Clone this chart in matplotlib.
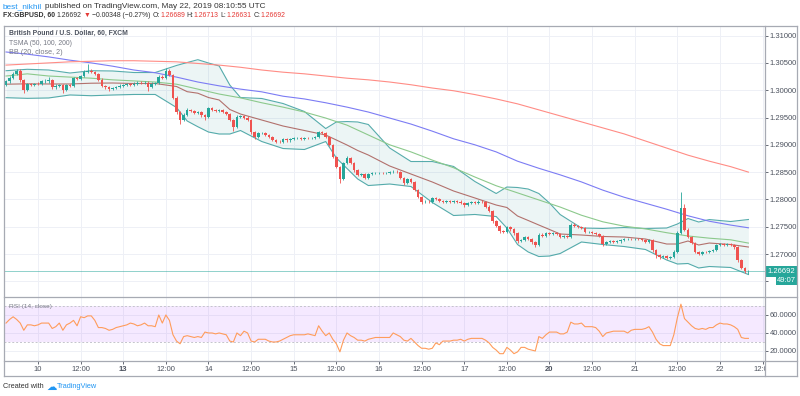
import numpy as np
import matplotlib
matplotlib.use("Agg")
import matplotlib.pyplot as plt
from matplotlib.lines import Line2D
from matplotlib.patches import Rectangle
from matplotlib.transforms import Bbox, TransformedBbox

plt.rcParams['font.family'] = ['Liberation Sans', 'DejaVu Sans']

# ---------------- data ----------------
first_bar = -9            # hourly bars, 0 = May 10 00:00 (weekend hours skipped)
first_open = 1.3010
closes = [
    1.3016, 1.3022, 1.3030, 1.3035, 1.3018, 1.3000, 1.3011, 1.3010, 1.3012, 1.3011,
    1.3016, 1.3016, 1.3018, 1.3005, 1.3008, 1.3009, 1.3000, 1.3009, 1.3008, 1.3022,
    1.3020, 1.3026, 1.3033, 1.3036, 1.3034, 1.3030, 1.3019, 1.3008, 1.3005, 1.3002,
    1.3004, 1.3006, 1.3008, 1.3010, 1.3011, 1.3010, 1.3012, 1.3014, 1.3013, 1.3014,
    1.3006, 1.3012, 1.3013, 1.3024, 1.3022, 1.3035, 1.3028, 1.2986, 1.2960, 1.2945,
    1.2955, 1.2964, 1.2962, 1.2958, 1.2960, 1.2955, 1.2951, 1.2967, 1.2964, 1.2962,
    1.2963, 1.2960, 1.2956, 1.2945, 1.2933, 1.2951, 1.2952, 1.2950, 1.2945, 1.2923,
    1.2914, 1.2921, 1.2922, 1.2918, 1.2914, 1.2909, 1.2906, 1.2905, 1.2910, 1.2908,
    1.2910, 1.2912, 1.2913, 1.2911, 1.2913, 1.2912, 1.2912, 1.2914, 1.2923, 1.2921,
    1.2915, 1.2900, 1.2878, 1.2860, 1.2837, 1.2867, 1.2876, 1.2866, 1.2854, 1.2845,
    1.2846, 1.2839, 1.2847, 1.2848, 1.2848, 1.2849, 1.2848, 1.2849, 1.2850, 1.2851,
    1.2850, 1.2839, 1.2830, 1.2837, 1.2832, 1.2817, 1.2804, 1.2795, 1.2796, 1.2795,
    1.2802, 1.2800, 1.2797, 1.2795, 1.2797, 1.2796, 1.2797, 1.2796, 1.2794, 1.2790,
    1.2793, 1.2795, 1.2794, 1.2796, 1.2795, 1.2787, 1.2779, 1.2760, 1.2752, 1.2742,
    1.2740, 1.2749, 1.2745, 1.2738, 1.2724, 1.2726, 1.2731, 1.2728, 1.2722, 1.2717,
    1.2735, 1.2733, 1.2738, 1.2737, 1.2738, 1.2736, 1.2732, 1.2733, 1.2732, 1.2753,
    1.2752, 1.2749, 1.2747, 1.2740, 1.2741, 1.2738, 1.2737, 1.2733, 1.2718, 1.2722,
    1.2723, 1.2722, 1.2723, 1.2725, 1.2727, 1.2728, 1.2727, 1.2728, 1.2727, 1.2726,
    1.2722, 1.2725, 1.2707, 1.2698, 1.2695, 1.2696, 1.2693, 1.2695, 1.2704, 1.2738,
    1.2784, 1.2744, 1.2731, 1.2720, 1.2704, 1.2700, 1.2704, 1.2703, 1.2706, 1.2707,
    1.2716, 1.2718, 1.2717, 1.2718, 1.2716, 1.2712, 1.2689, 1.2675, 1.26689, 1.26692,
]
upper_wick_pips = [
    3, 4, 3, 4, 3, 2, 3, 2, 2, 3,
    2, 5, 6, 2, 3, 2, 3, 2, 3, 2,
    3, 2, 4, 12, 3, 2, 2, 3, 2, 2,
    2, 2, 3, 2, 2, 2, 3, 2, 2, 2,
    2, 3, 2, 3, 3, 5, 4, 2, 3, 2,
    3, 3, 2, 2, 2, 2, 2, 3, 2, 2,
    2, 2, 2, 2, 2, 3, 2, 2, 2, 3,
    2, 3, 2, 2, 2, 2, 2, 2, 2, 2,
    2, 2, 2, 2, 2, 2, 2, 2, 3, 3,
    2, 2, 2, 2, 2, 2, 3, 2, 2, 2,
    2, 2, 2, 2, 2, 2, 2, 2, 2, 2,
    2, 2, 2, 3, 2, 2, 2, 2, 2, 2,
    3, 2, 2, 2, 2, 2, 2, 2, 2, 2,
    2, 2, 2, 2, 2, 2, 2, 2, 2, 2,
    2, 3, 2, 2, 2, 2, 2, 2, 2, 2,
    3, 3, 2, 2, 2, 2, 2, 2, 2, 3,
    3, 2, 2, 2, 2, 2, 2, 2, 2, 2,
    2, 2, 2, 2, 2, 2, 2, 2, 2, 2,
    2, 2, 2, 3, 2, 2, 2, 2, 4, 4,
    30, 8, 3, 2, 2, 2, 2, 2, 2, 2,
    2, 2, 2, 2, 2, 2, 2, 2, 2, 2.1,
]
lower_wick_pips = [
    3, 2, 2, 2, 3, 5, 2, 2, 2, 2,
    2, 2, 2, 3, 2, 2, 6, 2, 2, 2,
    2, 2, 2, 2, 2, 2, 2, 3, 2, 3,
    2, 2, 2, 2, 2, 2, 2, 2, 2, 2,
    8, 2, 2, 2, 2, 2, 2, 3, 3, 7,
    2, 2, 2, 2, 2, 4, 6, 2, 2, 2,
    2, 2, 2, 2, 8, 2, 2, 2, 2, 3,
    4, 2, 2, 2, 2, 2, 2, 2, 2, 2,
    2, 2, 2, 2, 2, 2, 2, 2, 2, 2,
    2, 2, 2, 3, 7, 2, 2, 2, 3, 2,
    3, 2, 2, 2, 2, 2, 2, 2, 2, 2,
    2, 2, 3, 2, 2, 2, 2, 4, 2, 2,
    2, 2, 2, 2, 2, 2, 2, 2, 2, 3,
    2, 2, 2, 2, 2, 3, 2, 3, 2, 3,
    2, 2, 2, 3, 4, 2, 2, 2, 3, 4,
    2, 2, 2, 2, 2, 2, 2, 2, 2, 2,
    2, 2, 2, 2, 2, 2, 2, 2, 4, 2,
    2, 2, 2, 2, 2, 2, 2, 2, 2, 2,
    2, 2, 3, 5, 4, 3, 3, 2, 3, 2,
    2, 2, 2, 2, 3, 2, 2, 2, 2, 2,
    2, 2, 2, 2, 2, 2, 3, 2, 3, 6.1,
]

# moving averages sampled every 6 bars
ma_bars = [-9, -3, 3, 9, 15, 21, 27, 33, 39, 45, 51, 57, 63, 69, 75, 81, 87, 93,
           99, 105, 111, 117, 123, 129, 135, 141, 147, 153, 159, 165, 171, 177, 183, 189, 195, 200]
sma50 = [1.3026, 1.3030, 1.3026, 1.3024, 1.3022, 1.3019, 1.3017, 1.3015, 1.3011, 1.3002,
         1.2993, 1.2986, 1.2977, 1.2969, 1.2960, 1.2949, 1.2936, 1.2918, 1.2900, 1.2887,
         1.2872, 1.2858, 1.2841, 1.2825, 1.2812, 1.2799, 1.2786, 1.2771, 1.2759, 1.2751,
         1.2746, 1.2739, 1.2733, 1.2729, 1.2726, 1.2720]
sma100 = [1.3070, 1.3066, 1.3061, 1.3055, 1.3050, 1.3044, 1.3037, 1.3032, 1.3024, 1.3015,
          1.3008, 1.3002, 1.2997, 1.2989, 1.2984, 1.2977, 1.2969, 1.2960, 1.2949, 1.2938,
          1.2925, 1.2911, 1.2900, 1.2887, 1.2870, 1.2857, 1.2845, 1.2832, 1.2817, 1.2804,
          1.2793, 1.2782, 1.2770, 1.2760, 1.2753, 1.2748]
sma200 = [1.3046, 1.3048, 1.3050, 1.3052, 1.3053, 1.3054, 1.3054, 1.3053, 1.3052, 1.3049,
          1.3046, 1.3042, 1.3037, 1.3033, 1.3030, 1.3026, 1.3022, 1.3019, 1.3015, 1.3010,
          1.3004, 1.2999, 1.2992, 1.2984, 1.2975, 1.2964, 1.2953, 1.2942, 1.2931, 1.2920,
          1.2907, 1.2894, 1.2881, 1.2870, 1.2860, 1.2850]

# Bollinger bands, sampled more densely where they bulge
bb_bars = [-9, -3, 3, 9, 15, 21, 27, 33, 39, 42, 45, 48, 51, 54, 57, 63, 69, 75, 81, 84,
           87, 90, 93, 99, 105, 111, 117, 123, 129, 132, 135, 138, 141, 144, 147, 153,
           159, 165, 171, 177, 180, 183, 186, 189, 195, 200]
bb_basis = [1.30110, 1.30117, 1.30114, 1.30114, 1.30128, 1.30132, 1.30123, 1.30123, 1.30068, 1.29973,
            1.29945, 1.29866, 1.29821, 1.29647, 1.29564, 1.29454, 1.29344, 1.29262, 1.29179, 1.29088,
            1.28996, 1.28896, 1.28813, 1.28612, 1.28465, 1.28319, 1.28154, 1.28026, 1.27897, 1.27852,
            1.27696, 1.27614, 1.27531, 1.27449, 1.27366, 1.27348, 1.27321, 1.27311, 1.27275, 1.27183,
            1.27183, 1.27238, 1.27165, 1.27201, 1.27174, 1.27128]
bb_upper = [1.30357, 1.30383, 1.30370, 1.30315, 1.30357, 1.30352, 1.30324, 1.30324, 1.30453, 1.30507,
            1.30559, 1.30498, 1.30444, 1.30095, 1.29866, 1.29848, 1.29756, 1.29610, 1.29298, 1.29418,
            1.29426, 1.29418, 1.29372, 1.28942, 1.28694, 1.28694, 1.28603, 1.28328, 1.28108, 1.28227,
            1.28218, 1.28190, 1.28108, 1.27934, 1.27723, 1.27476, 1.27468, 1.27485, 1.27467, 1.27476,
            1.27549, 1.27650, 1.27586, 1.27631, 1.27595, 1.27632]
bb_lower = [1.29863, 1.29851, 1.29858, 1.29913, 1.29899, 1.29912, 1.29922, 1.29922, 1.29683, 1.29436,
            1.29331, 1.29234, 1.29198, 1.29198, 1.29262, 1.29060, 1.28932, 1.28914, 1.29060, 1.28758,
            1.28566, 1.28374, 1.28254, 1.28282, 1.28236, 1.27944, 1.27705, 1.27724, 1.27686, 1.27476,
            1.27174, 1.27037, 1.26954, 1.26963, 1.27009, 1.27220, 1.27174, 1.27137, 1.27083, 1.26890,
            1.26817, 1.26826, 1.26744, 1.26771, 1.26753, 1.26624]

rsi = [
    51, 55, 58, 55, 51, 43, 49, 49, 48, 49,
    51, 51, 51, 45, 47, 51, 43, 49, 51, 54,
    48, 58, 57, 59, 59, 54, 46, 46, 45, 43,
    44, 46, 47, 48, 49, 51, 50, 48, 49, 51,
    48, 48, 47, 60, 51, 60, 54, 38, 31, 28,
    36, 37, 36, 35, 36, 35, 41, 40, 40, 39,
    40, 39, 38, 31, 30, 40, 37, 42, 40, 31,
    30, 33, 33, 33, 31, 30, 30, 31, 33, 35,
    37, 38, 38, 38, 38, 39, 38, 37, 48, 42,
    37, 40, 33, 28, 19, 32, 40, 37, 35, 32,
    32, 31, 33, 34, 35, 35, 35, 35, 35, 40,
    38, 36, 32, 31, 34, 30, 26, 23, 23, 22,
    23, 29, 27, 31, 31, 31, 32, 32, 33, 31,
    33, 34, 34, 34, 34, 32, 29, 24, 21, 17,
    17, 24, 21, 17, 19, 24, 24, 22, 21, 20,
    36, 34, 38, 41, 41, 41, 39, 39, 41, 52,
    50, 50, 51, 47, 47, 47, 46, 42, 36, 40,
    41, 42, 42, 42, 42, 40, 43, 44, 44, 44,
    45, 47, 41, 33, 28, 26, 26, 26, 38, 57,
    72, 56, 52, 48, 45, 44, 45, 44, 46, 46,
    49, 51, 50, 50, 49, 47, 44, 35, 34, 34,
]

time_labels = ["10", "12:00", "13", "12:00", "14", "12:00", "15", "12:00", "16", "12:00",
               "17", "12:00", "20", "12:00", "21", "12:00", "22", "12:00"]
bold_labels = ["13", "20"]
price_ticks = [1.265, 1.270, 1.275, 1.280, 1.285, 1.290, 1.295, 1.300, 1.305, 1.310]
hidden_price_labels = [1.265]      # covered by the countdown tag in the reference
rsi_ticks = [20, 40, 60]
last_price = 1.26692
countdown = "49:07"

# ---------------- layout ----------------
W, H = 800, 396
fig = plt.figure(figsize=(W / 100, H / 100), dpi=100)
fig.patch.set_facecolor('white')

L_PX, R_PX = 4, 765
TOP_PX, SEP_PX, TAX_PX, BOT_PX = 26, 296.7, 360.7, 375.5


def fx(px):
    return px / W


def fy(py):
    return 1 - py / H


ax = fig.add_axes([fx(L_PX), fy(SEP_PX), fx(R_PX - L_PX), (SEP_PX - TOP_PX) / H])
axr = fig.add_axes([fx(L_PX), fy(TAX_PX), fx(R_PX - L_PX), (TAX_PX - SEP_PX) / H])

XLIM = (-9.57, 204.67)
grid_c = '#eef0f6'
txt_c = '#4c525e'

for a in (ax, axr):
    a.set_xlim(*XLIM)
    for s in a.spines.values():
        s.set_visible(False)
    a.set_facecolor('white')

tick_pos = [12 * k for k in range(len(time_labels))]

# ----- main pane -----
ax.set_ylim(1.26218, 1.31176)
for t in tick_pos:
    ax.axvline(t, color=grid_c, lw=0.7, zorder=0)
for p in price_ticks:
    ax.axhline(p, color=grid_c, lw=0.7, zorder=0)

ax.fill_between(bb_bars, bb_lower, bb_upper, color='#138484', alpha=0.08, lw=0, zorder=1)
ax.plot(bb_bars, bb_upper, color='#3a9e9e', lw=0.8, alpha=0.85, zorder=2)
ax.plot(bb_bars, bb_lower, color='#3a9e9e', lw=0.8, alpha=0.85, zorder=2)
ax.plot(bb_bars, bb_basis, color='#a85a55', lw=0.8, alpha=0.85, zorder=2)
ax.plot(ma_bars, sma50, color='#8cc98c', lw=0.8, zorder=2)
ax.plot(ma_bars, sma100, color='#7c7cf4', lw=0.8, zorder=2)
ax.plot(ma_bars, sma200, color='#ff8c85', lw=0.8, zorder=2)

ax.axhline(last_price, color='#26a69a', lw=0.6, alpha=0.6, zorder=2)

c = np.array(closes)
o = np.concatenate([[first_open], c[:-1]])
hi = np.maximum(o, c) + np.array(upper_wick_pips) * 1e-4
lo = np.minimum(o, c) - np.array(lower_wick_pips) * 1e-4
xb = np.arange(len(c)) + first_bar
cols = np.where(c >= o, '#26a69a', '#ef5350')
ax.vlines(xb, lo, hi, colors=cols, lw=0.6, zorder=3)
ax.bar(xb, np.maximum(np.abs(c - o), 0.00004), bottom=np.minimum(o, c), width=0.74,
       color=cols, linewidth=0, zorder=4)

ax.yaxis.tick_right()
ax.set_yticks(price_ticks)
ax.set_yticklabels(["" if p in hidden_price_labels else f"{p:.5f}" for p in price_ticks])
ax.tick_params(axis='y', labelsize=5.5, colors=txt_c, length=2, width=0.6, pad=1.5)
ax.tick_params(axis='x', bottom=False, labelbottom=False)

# ----- RSI pane -----
axr.set_ylim(9.2, 80.3)
for t in tick_pos:
    axr.axvline(t, color=grid_c, lw=0.7, zorder=0)
for v in rsi_ticks:
    axr.axhline(v, color=grid_c, lw=0.7, zorder=0)
axr.axhspan(30, 70, color='#9915ff', alpha=0.09, lw=0, zorder=1)
for v in (30, 70):
    axr.axhline(v, color='#c4c4cc', lw=0.7, ls=(0, (2, 2)), zorder=2)
axr.plot(np.arange(len(rsi)) + first_bar, rsi, color='#ff9c5b', lw=0.8, zorder=3)
axr.yaxis.tick_right()
axr.set_yticks(rsi_ticks)
axr.set_yticklabels([f"{v:.4f}" for v in rsi_ticks])
axr.tick_params(axis='y', labelsize=5.5, colors=txt_c, length=2, width=0.6, pad=1.5)
axr.set_xticks(tick_pos)
axr.set_xticklabels(time_labels)
axr.tick_params(axis='x', labelsize=5.5, colors=txt_c, length=2, width=0.6, pad=2.0)
clipbox = TransformedBbox(Bbox([[0, 0], [fx(R_PX), 1]]), fig.transFigure)
for lbl in axr.get_xticklabels():
    if lbl.get_text() in bold_labels:
        lbl.set_fontweight('bold')
    lbl.set_clip_on(True)
    lbl.set_clip_box(clipbox)

# ----- frame -----
fc = '#a7aab3'
def hline(py, x0=L_PX, x1=797):
    fig.add_artist(Line2D([fx(x0), fx(x1)], [fy(py), fy(py)], color=fc, lw=0.9))
def vline(px, y0=TOP_PX, y1=BOT_PX):
    fig.add_artist(Line2D([fx(px), fx(px)], [fy(y0), fy(y1)], color=fc, lw=0.9))
for py in (TOP_PX, SEP_PX, TAX_PX, BOT_PX):
    hline(py)
for px in (L_PX, R_PX, 797):
    vline(px)

# ----- last price tags -----
fig.add_artist(Rectangle((fx(765.5), fy(277)), fx(31.5), 11 / H, color='#26a69a', lw=0))
fig.text(fx(781), fy(271.5), f"{last_price:.5f}", color='white', fontsize=5.5, ha='center', va='center')
fig.add_artist(Rectangle((fx(776), fy(285)), fx(21), 8 / H, color='#26a69a', lw=0))
fig.text(fx(786.5), fy(281), countdown, color='white', fontsize=5.5, ha='center', va='center')

# ----- texts -----
renderer = fig.canvas.get_renderer()


def rich(parts, x_px, y_px, size, target_w=None):
    sp = 0.28

    def widths(sz):
        ws = []
        for s, col, wt, gap in parts:
            t = fig.text(0, 0, s, fontsize=sz, fontweight=wt)
            ws.append(t.get_window_extent(renderer).width)
            t.remove()
        return ws
    if target_w:
        ws = widths(size)
        gaps = sum(g for *_, g in parts) * sp * size * 100 / 72
        size = size * target_w / (sum(ws) + gaps)
    x = x_px
    for s, col, wt, gap in parts:
        x += gap * sp * size * 100 / 72
        t = fig.text(fx(x), fy(y_px), s, color=col, fontsize=size, fontweight=wt,
                     ha='left', va='center')
        x += t.get_window_extent(renderer).width


dark = '#333333'
red = '#e53935'
rich([("best_nikhil", '#2196f3', 'normal', 0),
      ("published on TradingView.com, May 22, 2019 08:10:55 UTC", dark, 'normal', 1)],
     3, 6.3, 6, target_w=266)
rich([("FX:GBPUSD, 60", dark, 'bold', 0),
      ("1.26692", dark, 'normal', 1),
      ("▼", red, 'normal', 1),
      ("−0.00348 (−0.27%)", dark, 'normal', 1),
      ("O:", dark, 'normal', 1), ("1.26689", red, 'normal', 0),
      ("H:", dark, 'normal', 1), ("1.26713", red, 'normal', 0),
      ("L:", dark, 'normal', 1), ("1.26631", red, 'normal', 0),
      ("C:", dark, 'normal', 1), ("1.26692", red, 'normal', 0)],
     3, 15.8, 6, target_w=284)

rich([("British Pound / U.S. Dollar, 60, FXCM", '#4c525e', 'bold', 0)], 9, 33.3, 5.5, target_w=119)
rich([("TSMA (50, 100, 200)", '#787b86', 'normal', 0)], 9, 43.3, 5.5, target_w=63)
rich([("BB (20, close, 2)", '#787b86', 'normal', 0)], 9, 53, 5.5, target_w=54)
rich([("RSI (14, close)", '#787b86', 'normal', 0)], 9, 306.5, 5.5, target_w=43)

rich([("Created with", dark, 'normal', 0)], 3, 386.7, 5.5, target_w=41)
fig.text(fx(46), fy(386.5), "☁", color='#2196f3', fontsize=7.5, ha='left', va='center',
         family='DejaVu Sans')
rich([("TradingView", '#2196f3', 'normal', 0)], 57, 386.7, 5.5, target_w=41)

fig.savefig('out.png', dpi=100, facecolor='white')
